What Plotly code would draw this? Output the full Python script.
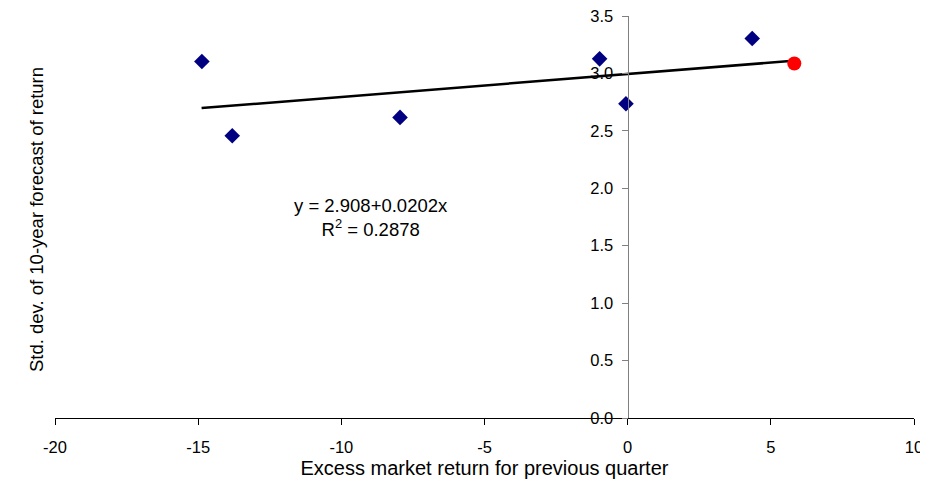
import plotly.graph_objects as go

# Data
x_points = [-14.87, -13.81, -7.95, -0.98, -0.06, 4.35]
y_points = [3.104, 2.457, 2.617, 3.127, 2.736, 3.304]
x_current = [5.82]
y_current = [3.087]
trend_x = [-14.88, 5.78]
trend_y = [2.698, 3.110]
x_ticks = [-20, -15, -10, -5, 0, 5, 10]
y_ticks = [0.0, 0.5, 1.0, 1.5, 2.0, 2.5, 3.0, 3.5]

FONT = "Liberation Sans, Arial, sans-serif"

fig = go.Figure()
fig.add_trace(go.Scatter(x=trend_x, y=trend_y, mode="lines",
                         line=dict(color="black", width=2.5), showlegend=False, hoverinfo="skip"))
fig.add_trace(go.Scatter(x=x_points, y=y_points, mode="markers",
                         marker=dict(symbol="diamond", size=12, color="#000080"), showlegend=False))
fig.add_trace(go.Scatter(x=x_current, y=y_current, mode="markers",
                         marker=dict(symbol="circle", size=14, color="#FF0000"), showlegend=False))

# the page adds an 8px body margin, so the figure is sized to fit the 928x487 window
fig.update_layout(
    width=920, height=471,
    margin=dict(l=47, r=14, t=8, b=61),
    paper_bgcolor="white", plot_bgcolor="white",
    font=dict(family=FONT, size=16, color="black"),
    xaxis=dict(range=[-20, 10], tickvals=x_ticks, ticktext=[str(v) for v in x_ticks],
               showgrid=False, zeroline=False, showline=True, linecolor="black", linewidth=1.2,
               ticks="outside", ticklen=6, tickcolor="black", automargin=False,
               tickfont=dict(size=16.5), ticklabelstandoff=8, ticklabeloverflow="allow",
               title=dict(text="Excess market return for previous quarter", standoff=10,
                          font=dict(size=20))),
    yaxis=dict(range=[0, 3.5], tickvals=y_ticks, ticktext=[f"{v:.1f}" for v in y_ticks],
               anchor="free", position=(0 - (-20)) / 30, side="left",
               showgrid=False, zeroline=False, showline=True, linecolor="#808080", linewidth=1.2,
               ticks="outside", ticklen=6, tickcolor="#808080", automargin=False,
               tickfont=dict(size=16.5), ticklabelstandoff=5, ticklabeloverflow="allow"),
    annotations=[
        dict(text="Std. dev. of 10-year forecast of return", xref="paper", yref="paper",
             x=(36 - 55) / 859, y=0.4925, textangle=-90, showarrow=False, font=dict(size=18.5),
             xanchor="center", yanchor="middle"),
        dict(text="y = 2.908+0.0202x<br>R<sup>2</sup> = 0.2878", xref="x", yref="y",
             x=-8.98, y=1.75, showarrow=False, align="center", font=dict(size=18.5)),
    ],
)

fig.write_html("out.html")
